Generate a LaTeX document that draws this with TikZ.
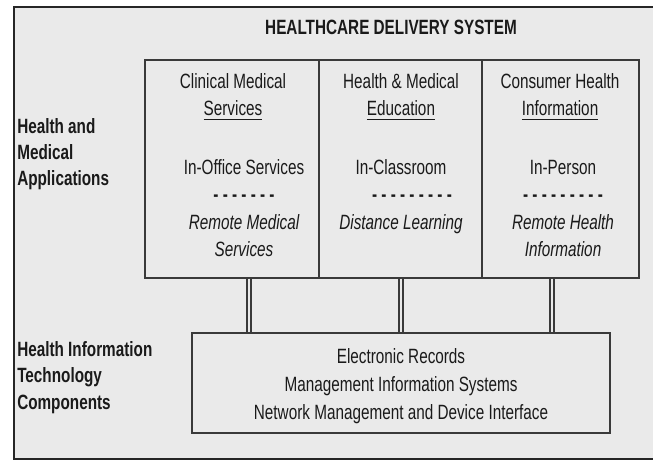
\documentclass[tikz,border=0pt]{standalone}
\usepackage{fontspec}
\setmainfont{Liberation Sans}[FakeStretch=0.74]
\usetikzlibrary{positioning}

\definecolor{panel}{HTML}{EAEAEA}
\definecolor{edge}{HTML}{3A3A3A}
\definecolor{ink}{HTML}{1A1A1A}

% underlined column heading word
\newcommand\ulword[1]{\setbox0\hbox{#1}\rlap{\rule[-4pt]{\wd0}{1.2pt}}\box0}

\begin{document}
\begin{tikzpicture}[x=0.75pt,y=-0.75pt,
    every node/.style={inner sep=0pt, text=ink, font=\fontsize{15.5}{20}\selectfont},
    panelbox/.style={draw=edge, line width=1.1pt, fill=panel},
    txt/.style={anchor=base},
    remote/.style={anchor=base, font=\fontsize{15.5}{20}\selectfont\itshape},
    sidelabel/.style={anchor=base west, font=\fontsize{15.5}{20}\selectfont\bfseries},
    link/.style={draw=edge, line width=1.5pt, double=panel, double distance=1.3pt}]

% ----------------------------------------------------------
% Page and outer frame
% ----------------------------------------------------------
\useasboundingbox (0,0) rectangle (653,462);
\fill[white] (0,0) rectangle (653,462);
\clip (0,0) rectangle (653,462);
\draw[fill=panel, draw=black!85, line width=1.8pt] (14,7) rectangle (680,459);

\node[txt, font=\fontsize{15.5}{20}\selectfont\bfseries] (title) at (391,34) {HEALTHCARE DELIVERY SYSTEM};

% ----------------------------------------------------------
% Application columns
% ----------------------------------------------------------
\node[panelbox, minimum width=130.5pt, minimum height=163.5pt] (clin) at (232,169) {};
\node[panelbox, minimum width=122.25pt, minimum height=163.5pt] (edu) at (400.5,169) {};
\node[panelbox, minimum width=117.75pt, minimum height=163.5pt] (cons) at (560.5,169) {};

% clinical services
\node[txt] (clin-h1) at (233,88) {Clinical Medical};
\node[txt] (clin-h2) at (233,115) {\ulword{Services}};
\node[txt] (clin-in) at (244,174) {In-Office Services};
\node[txt] (clin-dash) at (244,201) {\bfseries - - - - - - -};
\node[remote] (clin-r1) at (244,229) {Remote Medical};
\node[remote] (clin-r2) at (244,256) {Services};

% education
\node[txt] (edu-h1) at (401,88) {Health \& Medical};
\node[txt] (edu-h2) at (401,115) {\ulword{Education}};
\node[txt] (edu-in) at (401,174) {In-Classroom};
\node[txt] (edu-dash) at (412,201) {\bfseries - - - - - - - - -};
\node[remote] (edu-r1) at (401,229) {Distance Learning};

% consumer information
\node[txt] (cons-h1) at (560,88) {Consumer Health};
\node[txt] (cons-h2) at (560,115) {\ulword{Information}};
\node[txt] (cons-in) at (563,174) {In-Person};
\node[txt] (cons-dash) at (563,201) {\bfseries - - - - - - - - -};
\node[remote] (cons-r1) at (563,229) {Remote Health};
\node[remote] (cons-r2) at (563,256) {Information};

% ----------------------------------------------------------
% Technology components
% ----------------------------------------------------------
\node[panelbox, minimum width=313.5pt, minimum height=75pt] (hit) at (401,383) {};
\node[txt] (hit-1) at (401,363) {Electronic Records};
\node[txt] (hit-2) at (401,391) {Management Information Systems};
\node[txt] (hit-3) at (401,419) {Network Management and Device Interface};

% connectors between the layers
\foreach \k/\x in {k1/249,k2/401,k3/552} {
    \coordinate (\k) at (\x,0);
    \draw[link] (\k |- clin.south) -- (\k |- hit.north);
}

% ----------------------------------------------------------
% Side labels
% ----------------------------------------------------------
\node[sidelabel] (app-1) at (17,133) {Health and};
\node[sidelabel] (app-2) at (17,159) {Medical};
\node[sidelabel] (app-3) at (17,185) {Applications};

\node[sidelabel] (tec-1) at (17,356) {Health Information};
\node[sidelabel] (tec-2) at (17,382) {Technology};
\node[sidelabel] (tec-3) at (17,409) {Components};

\end{tikzpicture}
\end{document}
